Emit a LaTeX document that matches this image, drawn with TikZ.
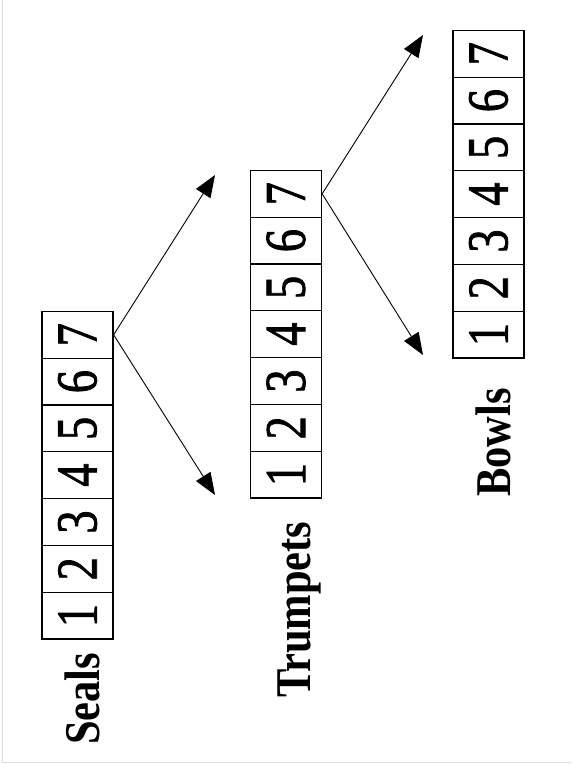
\documentclass[tikz,border=0pt]{standalone}
\usepackage{fontspec}
\setmainfont{Liberation Serif}
\newfontfamily\cellfont[FakeBold=1.5]{Liberation Serif}
\usetikzlibrary{arrows.meta}
\begin{document}
\begin{tikzpicture}[x=1pt, y=-1pt,
            cell/.style={draw, rectangle, rotate=90, inner sep=0pt, line width=1.3pt,
                minimum width=46.8pt, minimum height=71pt, font=\cellfont\fontsize{58}{58}\selectfont},
            title/.style={rotate=90, anchor=base west, inner sep=0pt, font=\bfseries\fontsize{50}{50}\selectfont},
            arrow/.style={-{Triangle[length=22pt, width=17pt]}, line width=0.9pt}]
            \useasboundingbox (0,0) rectangle (571,764);
            \draw[gray!25, line width=1pt] (2,0) -- (2,762) -- (571,762);

            \foreach \i in {1,...,7} {
                \node[cell] (seal\i) at (77.5, 639-46.8*\i+23.4) {\scalebox{0.8}[1]{\i}};
                \node[cell] (trumpet\i) at (286, 498-46.8*\i+23.4) {\scalebox{0.8}[1]{\i}};
                \node[cell] (bowl\i) at (488.5, 358-46.8*\i+23.4) {\scalebox{0.8}[1]{\i}};
            }

            \node[title] (seals) at (99,745) {\scalebox{0.85}[1]{Seals}};
            \node[title] (trumpets) at (310,698) {\scalebox{0.85}[1]{Trumpets}};
            \node[title] (bowls) at (510,497) {\scalebox{0.85}[1]{Bowls}};

            \coordinate (sealup) at (215,175);
            \coordinate (sealdown) at (215,495);
            \coordinate (trumpetup) at (423,35);
            \coordinate (trumpetdown) at (423,355);

            \draw[arrow] (seal7.south) -- (sealup);
            \draw[arrow] (seal7.south) -- (sealdown);
            \draw[arrow] (trumpet7.south) -- (trumpetup);
            \draw[arrow] (trumpet7.south) -- (trumpetdown);
        \end{tikzpicture}
\end{document}
